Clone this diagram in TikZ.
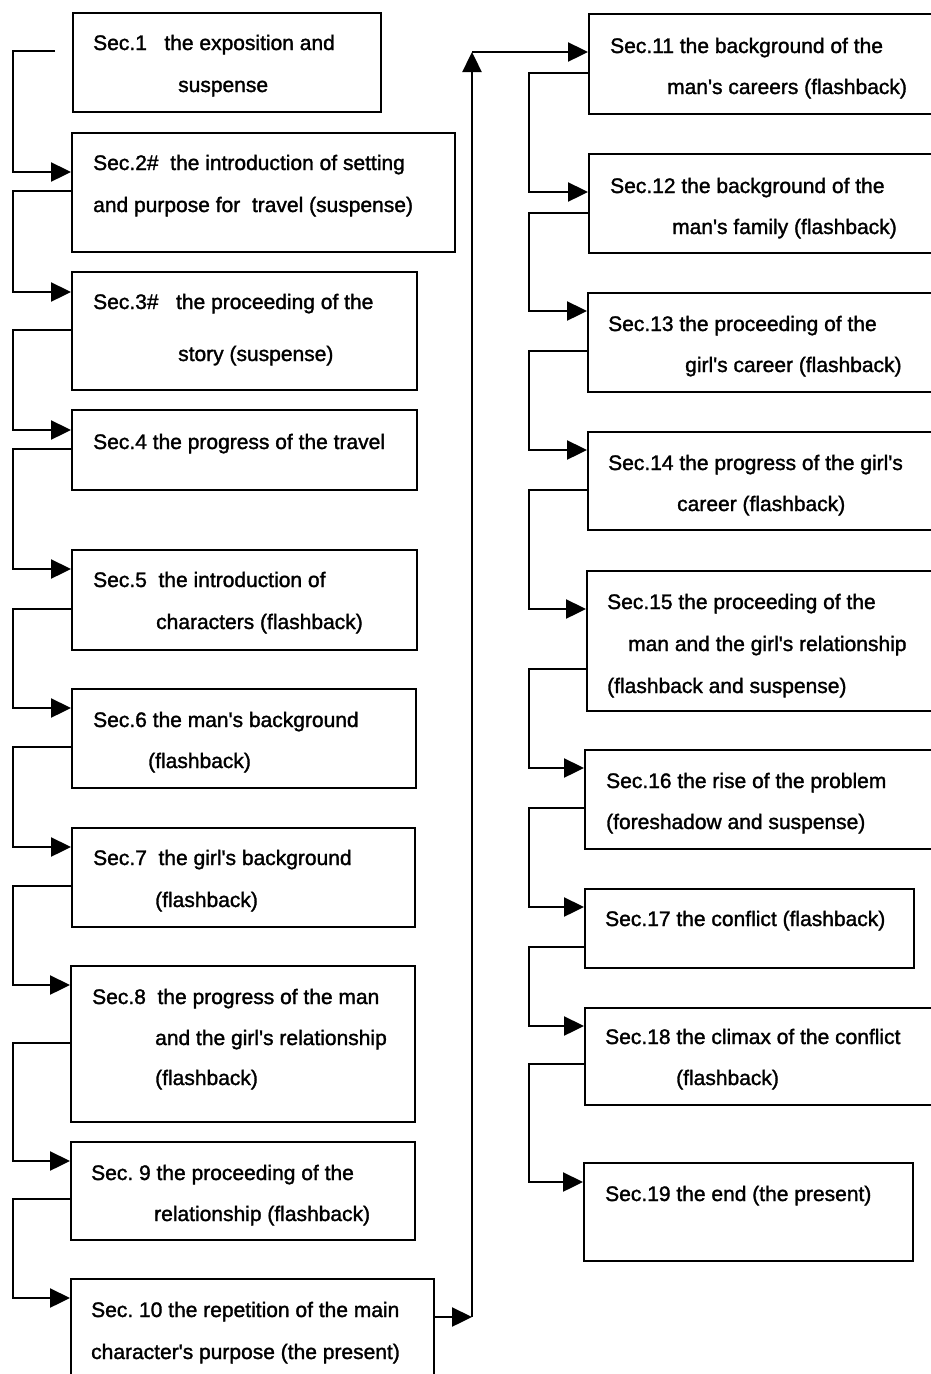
\documentclass[tikz,border=0pt]{standalone}
\usepackage{fontspec}
\setmainfont{Liberation Sans}[RawFeature={embolden=1.5}]
\usetikzlibrary{arrows.meta}
\frenchspacing

\newcommand{\ap}{\textquotesingle}

\tikzset{
  secbox/.style={draw, line width=2.4pt, anchor=north west, inner sep=0pt},
  txt/.style={anchor=base west, inner sep=0pt, font=\fontsize{21}{25}\selectfont},
  flow/.style={line width=2.4pt, -{Triangle[length=20pt,width=19pt]}},
}

\begin{document}
\begin{tikzpicture}[x=1pt, y=-1pt]
\useasboundingbox (0,0) rectangle (930,1374);

% Left column boxes
\node[secbox, minimum width=308pt, minimum height=99pt] (s1) at (72,12) {};
\node[secbox, minimum width=383pt, minimum height=119pt] (s2) at (71,132) {};
\node[secbox, minimum width=345pt, minimum height=118pt] (s3) at (71,271) {};
\node[secbox, minimum width=345pt, minimum height=80pt] (s4) at (71,409) {};
\node[secbox, minimum width=345pt, minimum height=100pt] (s5) at (71,549) {};
\node[secbox, minimum width=344pt, minimum height=99pt] (s6) at (71,688) {};
\node[secbox, minimum width=343pt, minimum height=99pt] (s7) at (71,827) {};
\node[secbox, minimum width=344pt, minimum height=156pt] (s8) at (70,965) {};
\node[secbox, minimum width=344pt, minimum height=98pt] (s9) at (70,1141) {};
\node[secbox, minimum width=363pt, minimum height=110pt] (s10) at (70,1278) {};

% Right column boxes
\node[secbox, minimum width=347pt, minimum height=100pt] (s11) at (588,13) {};
\node[secbox, minimum width=347pt, minimum height=99pt] (s12) at (588,153) {};
\node[secbox, minimum width=348pt, minimum height=99pt] (s13) at (587,292) {};
\node[secbox, minimum width=348pt, minimum height=98pt] (s14) at (587,431) {};
\node[secbox, minimum width=349pt, minimum height=140pt] (s15) at (586,570) {};
\node[secbox, minimum width=351pt, minimum height=99pt] (s16) at (584,749) {};
\node[secbox, minimum width=329pt, minimum height=79pt] (s17) at (584,888) {};
\node[secbox, minimum width=351pt, minimum height=97pt] (s18) at (584,1007) {};
\node[secbox, minimum width=329pt, minimum height=98pt] (s19) at (583,1162) {};

% Texts, left
\node[txt] (t1a) at (93,50) {Sec.1\ \ \ the exposition and};
\node[txt] (t1b) at (178,92) {suspense};
\node[txt] (t2a) at (93,170) {Sec.2\#\ \ the introduction of setting};
\node[txt] (t2b) at (93,212) {and purpose for\ \ travel (suspense)};
\node[txt] (t3a) at (93,309) {Sec.3\#\ \ \ the proceeding of the};
\node[txt] (t3b) at (178,361) {story (suspense)};
\node[txt] (t4a) at (93,449) {Sec.4 the progress of the travel};
\node[txt] (t5a) at (93,587) {Sec.5\ \ the introduction of};
\node[txt] (t5b) at (156,629) {characters (flashback)};
\node[txt] (t6a) at (93,727) {Sec.6 the man\ap s background};
\node[txt] (t6b) at (148,768) {(flashback)};
\node[txt] (t7a) at (93,865) {Sec.7\ \ the girl\ap s background};
\node[txt] (t7b) at (155,907) {(flashback)};
\node[txt] (t8a) at (92,1004) {Sec.8\ \ the progress of the man};
\node[txt] (t8b) at (155,1045) {and the girl\ap s relationship};
\node[txt] (t8c) at (155,1085) {(flashback)};
\node[txt] (t9a) at (91,1180) {Sec. 9 the proceeding of the};
\node[txt] (t9b) at (154,1221) {relationship (flashback)};
\node[txt] (t10a) at (91,1317) {Sec. 10 the repetition of the main};
\node[txt] (t10b) at (91,1359) {character\ap s purpose (the present)};

% Texts, right
\node[txt] (t11a) at (610,53) {Sec.11 the background of the};
\node[txt] (t11b) at (667,94) {man\ap s careers (flashback)};
\node[txt] (t12a) at (610,193) {Sec.12 the background of the};
\node[txt] (t12b) at (672,234) {man\ap s family (flashback)};
\node[txt] (t13a) at (608,331) {Sec.13 the proceeding of the};
\node[txt] (t13b) at (685,372) {girl\ap s career (flashback)};
\node[txt] (t14a) at (608,470) {Sec.14 the progress of the girl\ap s};
\node[txt] (t14b) at (677,511) {career (flashback)};
\node[txt] (t15a) at (607,609) {Sec.15 the proceeding of the};
\node[txt] (t15b) at (628,651) {man and the girl\ap s relationship};
\node[txt] (t15c) at (607,693) {(flashback and suspense)};
\node[txt] (t16a) at (606,788) {Sec.16 the rise of the problem};
\node[txt] (t16b) at (606,829) {(foreshadow and suspense)};
\node[txt] (t17a) at (605,926) {Sec.17 the conflict (flashback)};
\node[txt] (t18a) at (605,1044) {Sec.18 the climax of the conflict};
\node[txt] (t18b) at (676,1085) {(flashback)};
\node[txt] (t19a) at (605,1201) {Sec.19 the end (the present)};

% Left rail
\draw[flow] ([xshift=-17pt,yshift=-39pt]s1.north west) -- ++(-42,0) |- ([yshift=-40pt]s2.north west);
\draw[flow] ([yshift=-59pt]s2.north west) -- ++(-58,0) |- ([yshift=-21pt]s3.north west);
\draw[flow] ([yshift=-59pt]s3.north west) -- ++(-58,0) |- ([yshift=-21pt]s4.north west);
\draw[flow] ([yshift=-40pt]s4.north west) -- ++(-58,0) |- ([yshift=-20pt]s5.north west);
\draw[flow] ([yshift=-60pt]s5.north west) -- ++(-58,0) |- ([yshift=-20pt]s6.north west);
\draw[flow] ([yshift=-59pt]s6.north west) -- ++(-58,0) |- ([yshift=-20pt]s7.north west);
\draw[flow] ([yshift=-59pt]s7.north west) -- ++(-58,0) |- ([yshift=-20pt]s8.north west);
\draw[flow] ([yshift=-78pt]s8.north west) -- ++(-57,0) |- ([yshift=-20pt]s9.north west);
\draw[flow] ([yshift=-58pt]s9.north west) -- ++(-57,0) |- ([yshift=-20pt]s10.north west);

% Jump to the right column
\coordinate (up) at (472,1317);
\coordinate (top) at (472,52);
\draw[flow] (s10.east |- up) -- (up);
\draw[flow] (up) -- (top);
\draw[flow] (top) -- (s11.west |- top);

% Right rail
\draw[flow] ([yshift=-60pt]s11.north west) -- ++(-59,0) |- ([yshift=-39pt]s12.north west);
\draw[flow] ([yshift=-60pt]s12.north west) -- ++(-59,0) |- ([yshift=-19pt]s13.north west);
\draw[flow] ([yshift=-59pt]s13.north west) -- ++(-58,0) |- ([yshift=-19pt]s14.north west);
\draw[flow] ([yshift=-59pt]s14.north west) -- ++(-58,0) |- ([yshift=-39pt]s15.north west);
\draw[flow] ([yshift=-99pt]s15.north west) -- ++(-57,0) |- ([yshift=-19pt]s16.north west);
\draw[flow] ([yshift=-59pt]s16.north west) -- ++(-55,0) |- ([yshift=-19pt]s17.north west);
\draw[flow] ([yshift=-59pt]s17.north west) -- ++(-55,0) |- ([yshift=-19pt]s18.north west);
\draw[flow] ([yshift=-57pt]s18.north west) -- ++(-55,0) |- ([yshift=-20pt]s19.north west);

\end{tikzpicture}
\end{document}
